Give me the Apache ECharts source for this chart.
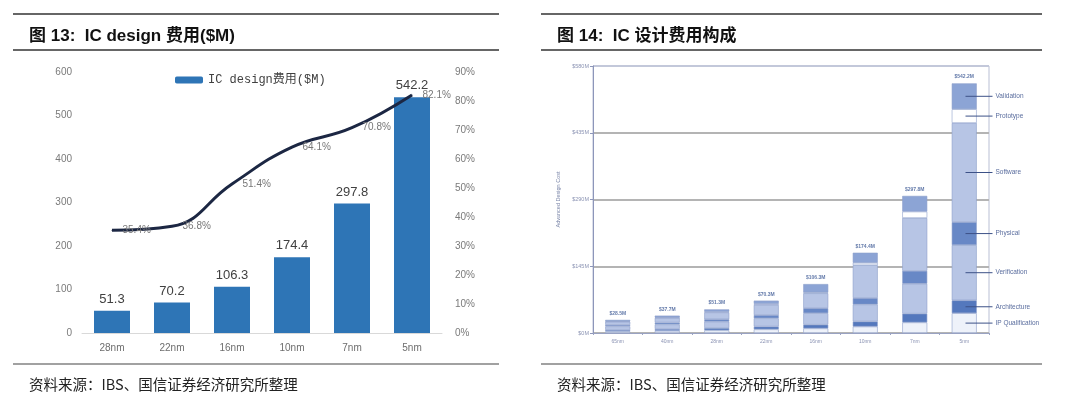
<!DOCTYPE html>
<html><head><meta charset="utf-8">
<script src="https://cdn.jsdelivr.net/npm/echarts@6/dist/echarts.min.js"></script>
<style>html,body{margin:0;padding:0;background:#fff}#c{width:1080px;height:396px}</style>
</head><body><div id="c"></div>
<script>
// ---- Left chart (图13) data ----
const leftCats = ['28nm', '22nm', '16nm', '10nm', '7nm', '5nm'];
const costValues = [51.3, 70.2, 106.3, 174.4, 297.8, 542.2];
const pctValues = [35.4, 36.8, 51.4, 64.1, 70.8, 82.1];
const leftTicks = [0, 100, 200, 300, 400, 500, 600];
const rightTicksPct = [0, 10, 20, 30, 40, 50, 60, 70, 80, 90];

// ---- Right chart (图14) data ----
const rightCats = ['65nm', '40nm', '28nm', '22nm', '16nm', '10nm', '7nm', '5nm'];
const totals = [28.5, 37.7, 51.3, 70.3, 106.3, 174.4, 297.8, 542.2];
const ipQual = [3.5, 4.7, 5.8, 8, 10, 14, 23, 43];
const architecture = [3, 4, 5, 6, 8, 11, 19, 28];
const verification = [8, 10, 14, 18, 25, 37, 65, 120];
const physical = [3, 4, 5, 7, 11, 14, 28, 50];
const software = [7, 10, 15, 22, 32.3, 71.4, 114.8, 215.2];
const prototype = [1, 1, 1.5, 2.3, 2, 5, 14, 30];
const validation = [3, 4, 5, 7, 18, 22, 34, 56];
const segNames = ['IP Qualification', 'Architecture', 'Verification', 'Physical', 'Software', 'Prototype', 'Validation'];
const costTicks = [0, 145, 290, 435, 580];

const segData = [ipQual, architecture, verification, physical, software, prototype, validation];
const segColors = ['#eef2fa', '#5478bd', '#b7c5e5', '#6888c6', '#b7c5e5', '#ffffff', '#8ca4d5'];

const chart = echarts.init(document.getElementById('c'), null, {renderer: 'canvas'});
const sans = 'Liberation Sans, Arial, Noto Sans CJK SC, sans-serif';
const cjk = 'Noto Sans CJK SC, sans-serif';

const lastIdx = rightCats.length - 1;
const segSeries = segData.map((arr, si) => ({
  type: 'bar', name: segNames[si], stack: 'cost', xAxisIndex: 1, yAxisIndex: 2,
  barWidth: 25,
  itemStyle: {color: segColors[si], borderColor: '#8d9fcb', borderWidth: 0.6},
  data: arr.map((v, i) => i === lastIdx ? {
    value: v,
    label: {
      show: true, position: ['55%', '50%'], align: 'left', verticalAlign: 'middle',
      formatter: '{ln|}{t|' + segNames[si] + '}',
      rich: {
        ln: {width: 27, height: 1, backgroundColor: '#3c5187', verticalAlign: 'middle'},
        t: {fontSize: 6.5, color: '#5a6d9e', padding: [0, 0, 0, 3], fontFamily: sans, verticalAlign: 'middle'}
      }
    }
  } : v)
}));

const option = {
  animation: false,
  backgroundColor: '#ffffff',
  title: [
    {text: '图 13:  IC design 费用($M)', left: 24, top: 23, textStyle: {fontSize: 17, fontWeight: 'bold', color: '#111', fontFamily: sans}},
    {text: '图 14:  IC 设计费用构成', left: 552, top: 23, textStyle: {fontSize: 17, fontWeight: 'bold', color: '#111', fontFamily: sans}},
    {text: '资料来源：IBS、国信证券经济研究所整理', left: 24, top: 372, textStyle: {fontSize: 14.5, fontWeight: 'normal', color: '#222', fontFamily: cjk}},
    {text: '资料来源：IBS、国信证券经济研究所整理', left: 552, top: 372, textStyle: {fontSize: 14.5, fontWeight: 'normal', color: '#222', fontFamily: cjk}}
  ],
  graphic: [
    {type: 'line', shape: {x1: 13, y1: 14, x2: 499, y2: 14}, style: {stroke: '#333', lineWidth: 1.5}},
    {type: 'line', shape: {x1: 13, y1: 50, x2: 499, y2: 50}, style: {stroke: '#333', lineWidth: 1.5}},
    {type: 'line', shape: {x1: 13, y1: 364, x2: 499, y2: 364}, style: {stroke: '#444', lineWidth: 1.2}},
    {type: 'line', shape: {x1: 541, y1: 14, x2: 1042, y2: 14}, style: {stroke: '#333', lineWidth: 1.5}},
    {type: 'line', shape: {x1: 541, y1: 50, x2: 1042, y2: 50}, style: {stroke: '#333', lineWidth: 1.5}},
    {type: 'line', shape: {x1: 541, y1: 364, x2: 1042, y2: 364}, style: {stroke: '#444', lineWidth: 1.2}}
  ],
  legend: {
    data: ['IC design费用($M)'], left: 170, top: 69, itemWidth: 28, itemHeight: 7, itemGap: 4,
    textStyle: {fontFamily: 'Liberation Mono, Noto Sans CJK SC, monospace', fontSize: 12, color: '#404040'}
  },
  grid: [
    {left: 82, top: 72, width: 360, height: 261},
    {left: 593, top: 66, width: 396, height: 267, show: true, borderColor: '#b9bfd4', borderWidth: 1}
  ],
  xAxis: [
    {type: 'category', gridIndex: 0, data: leftCats,
      axisLine: {lineStyle: {color: '#d9d9d9', width: 1}}, axisTick: {show: false},
      axisLabel: {fontSize: 10, color: '#6d6d6d', margin: 10, fontFamily: sans}},
    {type: 'category', gridIndex: 1, data: rightCats,
      axisLine: {lineStyle: {color: '#9aa3c2', width: 1}}, axisTick: {show: true, length: 2, lineStyle: {color: '#9aa3c2'}},
      axisLabel: {fontSize: 5, color: '#8b93b3', margin: 6, fontFamily: sans}}
  ],
  yAxis: [
    {type: 'value', gridIndex: 0, min: leftTicks[0], max: leftTicks[leftTicks.length - 1], interval: 100,
      splitLine: {show: false}, axisLine: {show: false}, axisTick: {show: false},
      axisLabel: {fontSize: 10, color: '#7a7a7a', margin: 10, fontFamily: sans}},
    {type: 'value', gridIndex: 0, position: 'right', min: rightTicksPct[0], max: rightTicksPct[rightTicksPct.length - 1], interval: 10,
      splitLine: {show: false}, axisLine: {show: false}, axisTick: {show: false},
      axisLabel: {fontSize: 10, color: '#7a7a7a', margin: 13, formatter: '{value}%', fontFamily: sans}},
    {type: 'value', gridIndex: 1, min: costTicks[0], max: costTicks[costTicks.length - 1], interval: 145,
      name: 'Advanced Design Cost', nameLocation: 'middle', nameGap: 32, nameRotate: 90,
      nameTextStyle: {fontSize: 5.5, color: '#7d88aa', fontFamily: sans},
      splitLine: {show: true, lineStyle: {color: ['#b4b4b4', '#b4b4b4', '#b4b4b4', '#b4b4b4', '#c3c8da'], width: 2}},
      axisLine: {show: true, lineStyle: {color: '#8d96ba'}}, axisTick: {show: true, length: 3, lineStyle: {color: '#8d96ba'}},
      axisLabel: {fontSize: 5.5, color: '#8b93b3', margin: 4, formatter: '${value}M', fontFamily: sans}}
  ],
  series: [
    {type: 'bar', name: 'IC design费用($M)', xAxisIndex: 0, yAxisIndex: 0, data: costValues, barWidth: 36,
      itemStyle: {color: '#2e75b6'},
      label: {show: true, position: 'top', distance: 5, fontSize: 13, color: '#404040', fontFamily: sans}},
    {type: 'line', name: 'pct', xAxisIndex: 0, yAxisIndex: 1, data: pctValues, smooth: 0.45,
      symbol: 'circle', symbolSize: 1, showSymbol: true, itemStyle: {color: '#1c2743'},
      lineStyle: {color: '#1c2743', width: 3},
      label: {show: true, position: 'right', distance: 10, fontSize: 10, color: '#777', formatter: '{c}%', fontFamily: sans}},
    ...segSeries,
    {type: 'scatter', name: 'total', xAxisIndex: 1, yAxisIndex: 2, data: totals, symbolSize: 0,
      label: {show: true, position: 'top', distance: 4, fontSize: 5, fontWeight: 'bold', color: '#3b5794',
        formatter: p => '$' + p.value.toFixed(1) + 'M', fontFamily: sans}}
  ]
};
chart.setOption(option);
</script></body></html>
